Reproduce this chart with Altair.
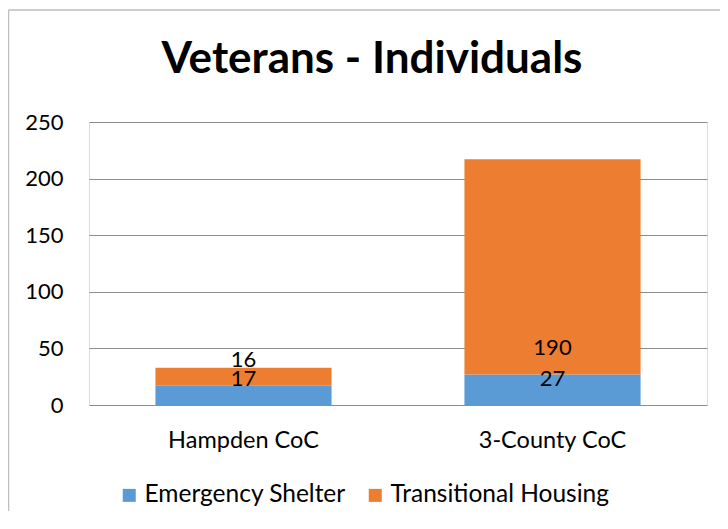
import altair as alt
import pandas as pd

sites = ["Hampden CoC", "3-County CoC"]
series = ["Emergency Shelter", "Transitional Housing"]
emergency_shelter = [17, 27]
transitional_housing = [16, 190]
y_ticks = [0, 50, 100, 150, 200, 250]
colors = ["#5B9BD5", "#ED7D31"]

rows = []
for i, s in enumerate(sites):
    rows.append({"site": s, "series": series[0], "order": 0, "value": emergency_shelter[i]})
    rows.append({"site": s, "series": series[1], "order": 1, "value": transitional_housing[i]})
df = pd.DataFrame(rows)

FONT = "Lato"

base = alt.Chart(df).transform_stack(
    stack="value", groupby=["site"], as_=["start", "end"],
    sort=[alt.SortField("order", order="ascending")]
)

x_enc = alt.X("site:N", sort=sites,
              scale=alt.Scale(paddingInner=0.43, paddingOuter=0.215),
              axis=alt.Axis(title=None, labelAngle=0, labelFontSize=23.5, labelColor="#000000",
                            labelPadding=23, domain=False, ticks=False, labelFont=FONT))

bars = base.mark_bar().encode(
    x=x_enc,
    y=alt.Y("start:Q", scale=alt.Scale(domain=[0, 250], nice=False),
            axis=alt.Axis(title=None, values=y_ticks, labelFontSize=22, labelColor="#000000",
                          labelPadding=26, domain=False, ticks=False, gridColor="#8C8C8C",
                          gridWidth=1, labelFont=FONT)),
    y2="end:Q",
    color=alt.Color("series:N", sort=series,
                    scale=alt.Scale(domain=series, range=colors),
                    legend=alt.Legend(title=None, orient="none", legendX=28, legendY=361,
                                      direction="horizontal", symbolType="square",
                                      symbolSize=169, symbolStrokeWidth=0, labelFontSize=24.5,
                                      labelFont=FONT, labelColor="#000000", labelOffset=3,
                                      columnPadding=17, labelLimit=0)),
)

labels = base.mark_text(fontSize=22, font=FONT, color="#000000", baseline="alphabetic",
                        align="center", dy=-19).encode(
    x=alt.X("site:N", sort=sites),
    y=alt.Y("start:Q"),
    text=alt.Text("value:Q"),
)

frame_data = pd.DataFrame({"f": [0]})
frame_top = alt.Chart(frame_data).mark_rule(stroke="#BFBFBF", strokeWidth=1.5).encode(
    x=alt.value(-80.5), x2=alt.value(640), y=alt.value(-112)
)
frame_left = alt.Chart(frame_data).mark_rule(stroke="#BFBFBF", strokeWidth=1.5).encode(
    x=alt.value(-80.5), y=alt.value(-112), y2=alt.value(420)
)

chart = alt.layer(frame_top, frame_left, bars, labels).properties(
    width=618, height=283,
    title=alt.TitleParams("Veterans - Individuals", fontSize=44, fontWeight="bold", font=FONT,
                          anchor="middle", frame="group", dx=-26, offset=-108,
                          baseline="alphabetic", color="#000000"),
    padding={"left": 81, "top": 114, "right": 13, "bottom": 106},
    autosize=alt.AutoSizeParams(type="none"),
).configure_view(stroke=None).configure(font=FONT)

chart.save("out.html", embed_options={"renderer": "svg", "actions": False})
